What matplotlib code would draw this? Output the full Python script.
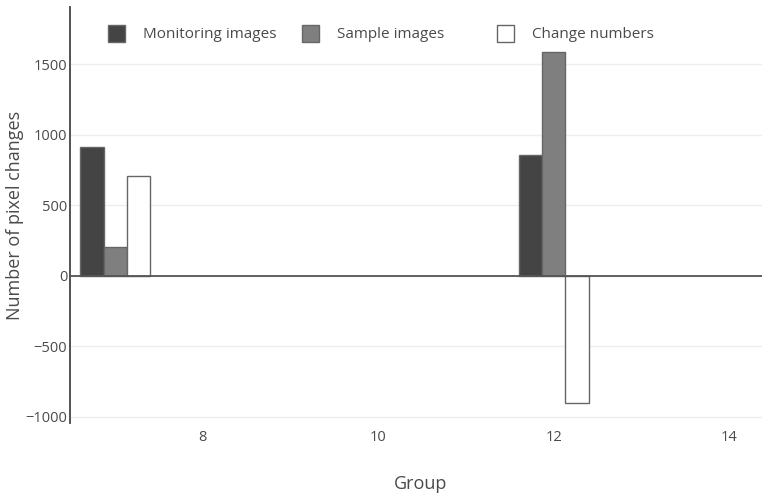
import matplotlib
matplotlib.use("Agg")
import matplotlib.pyplot as plt
from matplotlib.patches import Rectangle
import numpy as np

groups = [7, 12]
series_names = ["Monitoring images", "Sample images", "Change numbers"]
monitoring = [913, 856]
sample = [206, 1584]
change = [709, -900]
yticks = [-1000, -500, 0, 500, 1000, 1500]
xticks = [8, 10, 12, 14]

colors = ["#444444", "#7f7f7f", "#ffffff"]
edge = "#666666"
text_col = "#4a4a4a"

plt.rcParams['font.family'] = ['Open Sans', 'DejaVu Sans']

W, H = 762, 497
fig = plt.figure(figsize=(W / 100, H / 100), dpi=100)
ax = fig.add_axes([70 / W, (H - 423) / H, (W - 70) / W, (423 - 7) / H])

bw = 0.8 / 3
x = np.array(groups, dtype=float)
for i, vals in enumerate([monitoring, sample, change]):
    ax.bar(x + (i - 1) * bw, vals, width=bw, color=colors[i], edgecolor=edge,
           linewidth=1.0, zorder=3)

ax.set_xlim(6.484, 14.376)
ax.set_ylim(-1045, 1906)
ax.set_yticks(yticks)
ax.set_yticklabels([str(v).replace('-', '\u2212') for v in yticks])
ax.set_xticks(xticks)
ax.grid(axis='y', color='#eeeeee', linewidth=1, zorder=0)
ax.axhline(0, color='#555555', linewidth=1.3, zorder=4)

for s in ['top', 'right', 'bottom']:
    ax.spines[s].set_visible(False)
ax.spines['left'].set_color('#444444')
ax.spines['left'].set_linewidth(1.3)
ax.tick_params(axis='both', length=0, labelsize=10.5, labelcolor=text_col)
ax.tick_params(axis='x', pad=5)
ax.tick_params(axis='y', pad=2)

fig.text(15 / W, 1 - 215 / H, "Number of pixel changes", rotation=90,
         ha='center', va='center', fontsize=13, color=text_col)
fig.text(421 / W, 1 - 484 / H, "Group", ha='center', va='center', fontsize=13, color=text_col)

# legend drawn manually to match equal item spacing
sq_x = [108, 302, 497]
txt_x = [143, 337, 532]
for i, name in enumerate(series_names):
    fig.add_artist(Rectangle((sq_x[i] / W, 1 - 42 / H), 17 / W, 17 / H,
                             facecolor=colors[i], edgecolor=edge, linewidth=1.0,
                             transform=fig.transFigure))
    fig.text(txt_x[i] / W, 1 - 35 / H, name, ha='left', va='center',
             fontsize=11, color=text_col)

fig.savefig("out.png", dpi=100)
